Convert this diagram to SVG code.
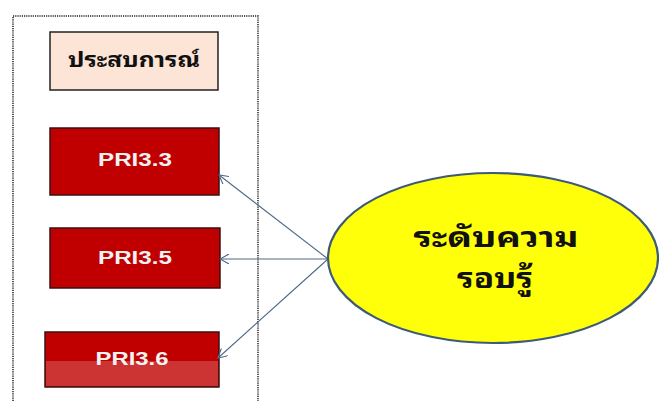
<svg xmlns="http://www.w3.org/2000/svg" width="659" height="401" viewBox="0 0 659 401">
<defs>
<style>
.red{fill:#C00000;stroke:#3a1010;stroke-width:1.5}
.lbl{font-family:"Liberation Sans",Arial,sans-serif;font-weight:bold;font-size:18px;fill:#F2F2F2;text-anchor:middle}
.th{font-family:"Noto Sans Thai Looped","Noto Sans Thai","DejaVu Sans","Noto Sans",sans-serif;font-weight:bold;fill:#111;text-anchor:middle}
.conn{stroke:#4F6888;stroke-width:1.1;fill:none;marker-end:url(#arr)}
</style>
<marker id="arr" viewBox="0 0 10 10" refX="9" refY="5" markerWidth="10" markerHeight="10" markerUnits="userSpaceOnUse" orient="auto">
<path d="M0,0 L9,5 L0,10" fill="none" stroke="#4F6888" stroke-width="1.1"/>
</marker>
</defs>
<rect width="659" height="401" fill="#fff"/>
<path id="frame" d="M13,401 V16 H258 V401" fill="none" stroke="#222" stroke-width="1.5" stroke-dasharray="1.2 1"/>
<g id="n-exp">
<rect x="50" y="32" width="168" height="58" fill="#FCE4D6" stroke="#222" stroke-width="1.5"/>
<text class="th" x="134" y="67" font-size="20" textLength="132" lengthAdjust="spacingAndGlyphs">ประสบการณ์</text>
</g>
<g id="n-pri33">
<rect class="red" x="50" y="128" width="169" height="67"/>
<text class="lbl" x="135" y="166" textLength="74" lengthAdjust="spacingAndGlyphs">PRI3.3</text>
</g>
<g id="n-pri35">
<rect class="red" x="50" y="228" width="170" height="60"/>
<text class="lbl" x="135" y="264" textLength="74" lengthAdjust="spacingAndGlyphs">PRI3.5</text>
</g>
<g id="n-pri36">
<rect class="red" x="45" y="332" width="174" height="55"/>
<text class="lbl" x="132" y="365" textLength="73" lengthAdjust="spacingAndGlyphs">PRI3.6</text>
<rect x="46" y="361" width="172" height="25" fill="#fff" opacity="0.2"/>
</g>
<g id="connectors">
<line class="conn" x1="328" y1="259" x2="219" y2="175"/>
<line class="conn" x1="328" y1="259" x2="220" y2="259"/>
<line class="conn" x1="328" y1="259" x2="218" y2="358"/>
</g>
<g id="n-level">
<ellipse cx="493" cy="258" rx="165" ry="85" fill="#FFFF0A" stroke="#3D5A78" stroke-width="2.2"/>
<text class="th" x="496" y="247" font-size="27" textLength="165" lengthAdjust="spacingAndGlyphs">ระดับความ</text>
<text class="th" x="495" y="288" font-size="27" textLength="76" lengthAdjust="spacingAndGlyphs">รอบรู้</text>
</g>
</svg>
